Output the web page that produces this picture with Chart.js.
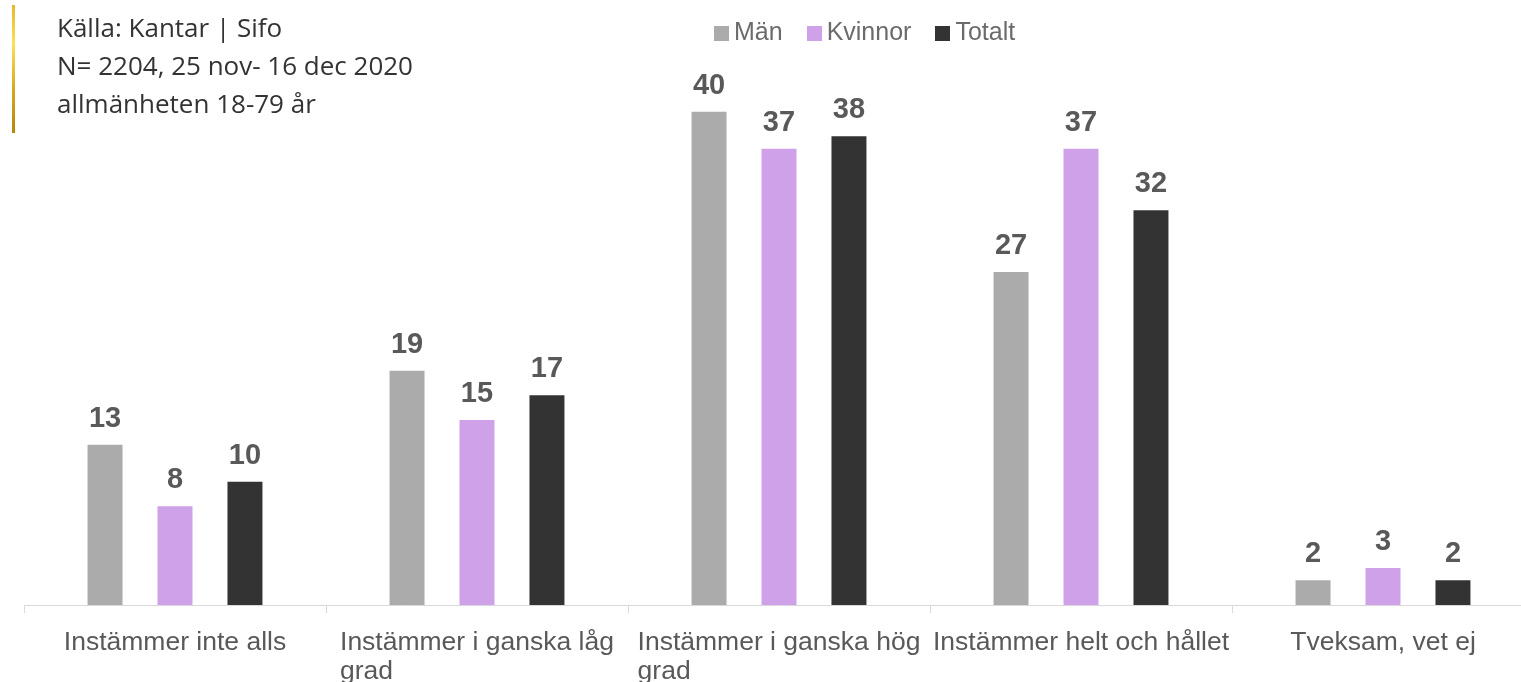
<!DOCTYPE html>
<html lang="sv">
<head>
    <meta charset="UTF-8">
    <title>Kantar Sifo</title>
    <script src="https://cdn.jsdelivr.net/npm/chart.js"></script>
    <style>
        body { margin: 0; background: #fff; overflow: hidden; }
        #wrap { position: relative; width: 1521px; height: 682px; overflow: hidden; }
        #chartBox { position: absolute; left: 0; top: 0; width: 1540px; height: 682px; }
        #goldBar {
            position: absolute; left: 12px; top: 5px; width: 3px; height: 128px;
            background: linear-gradient(to bottom, #e6b830, #fbe05a 30%, #d9a821 65%, #b8860b);
        }
        #source {
            position: absolute; left: 57px; top: 8px;
            font-family: "Open Sans", sans-serif; font-size: 26px; line-height: 38px;
            color: #333;
        }
        #legend {
            position: absolute; left: 714px; top: 17px; display: flex;
            font-family: "Liberation Sans", Arial, sans-serif; font-size: 25px; color: #6b6b6b;
        }
        #legend span.item { display: flex; align-items: center; margin-right: 24px; }
        #legend span.box { display: inline-block; width: 15px; height: 15px; margin-right: 5px; margin-top: 3px; }
    </style>
</head>
<body>
<div id="wrap">
    <div id="chartBox"><canvas id="chart" width="1540" height="682"></canvas></div>
    <div id="goldBar"></div>
    <div id="source">Källa: Kantar | Sifo<br>N= 2204, 25 nov- 16 dec 2020<br>allmänheten 18-79 år</div>
    <div id="legend"></div>
</div>
<script>
    const categories = [
        ['Instämmer inte alls'],
        ['Instämmer i ganska låg', 'grad'],
        ['Instämmer i ganska hög', 'grad'],
        ['Instämmer helt och hållet'],
        ['Tveksam, vet ej']
    ];
    const seriesNames = ['Män', 'Kvinnor', 'Totalt'];
    const manValues = [13, 19, 40, 27, 2];
    const kvinnorValues = [8, 15, 37, 37, 3];
    const totaltValues = [10, 17, 38, 32, 2];
    const seriesColors = ['#ababab', '#cfa1e8', '#333333'];
    const yMax = 45;

    // legend
    const legendEl = document.getElementById('legend');
    seriesNames.forEach((name, i) => {
        const item = document.createElement('span');
        item.className = 'item';
        item.innerHTML = '<span class="box" style="background:' + seriesColors[i] + '"></span>' + name;
        legendEl.appendChild(item);
    });

    // value labels above bars
    const valueLabels = {
        id: 'valueLabels',
        afterDatasetsDraw(chart) {
            const ctx = chart.ctx;
            ctx.save();
            ctx.font = 'bold 29px "Liberation Sans", Arial, sans-serif';
            ctx.fillStyle = '#595959';
            ctx.textAlign = 'center';
            ctx.textBaseline = 'alphabetic';
            chart.data.datasets.forEach((ds, di) => {
                chart.getDatasetMeta(di).data.forEach((bar, i) => {
                    ctx.fillText(ds.data[i], bar.x, bar.y - 18);
                });
            });
            ctx.restore();
        }
    };

    // category labels, wrapped lines left aligned as a centered block
    const categoryLabels = {
        id: 'categoryLabels',
        afterDraw(chart) {
            const ctx = chart.ctx;
            const xScale = chart.scales.x;
            ctx.save();
            ctx.font = '26.5px "Liberation Sans", Arial, sans-serif';
            ctx.fillStyle = '#595959';
            ctx.textAlign = 'left';
            ctx.textBaseline = 'alphabetic';
            categories.forEach((lines, i) => {
                const x = xScale.getPixelForValue(i);
                const w = Math.max(...lines.map(l => ctx.measureText(l).width));
                lines.forEach((line, k) => {
                    ctx.fillText(line, x - w / 2, xScale.bottom + 37 + k * 29);
                });
            });
            ctx.restore();
        }
    };

    const datasets = [manValues, kvinnorValues, totaltValues].map((vals, i) => ({
        label: seriesNames[i],
        data: vals,
        backgroundColor: seriesColors[i],
        barPercentage: 0.5,
        categoryPercentage: 0.695
    }));

    new Chart(document.getElementById('chart'), {
        type: 'bar',
        data: { labels: categories.map(l => l.join(' ')), datasets: datasets },
        options: {
            responsive: false,
            animation: false,
            devicePixelRatio: 1,
            layout: { padding: { left: 24, right: 6, top: 50, bottom: 69 } },
            plugins: { legend: { display: false }, tooltip: { enabled: false } },
            scales: {
                x: {
                    grid: { display: true, drawOnChartArea: false, drawTicks: true, tickLength: 8, offset: true, color: '#d9d9d9' },
                    border: { display: true, color: '#d9d9d9', width: 1 },
                    ticks: { display: false }
                },
                y: { display: false, min: 0, max: yMax }
            }
        },
        plugins: [valueLabels, categoryLabels]
    });
</script>
</body>
</html>
